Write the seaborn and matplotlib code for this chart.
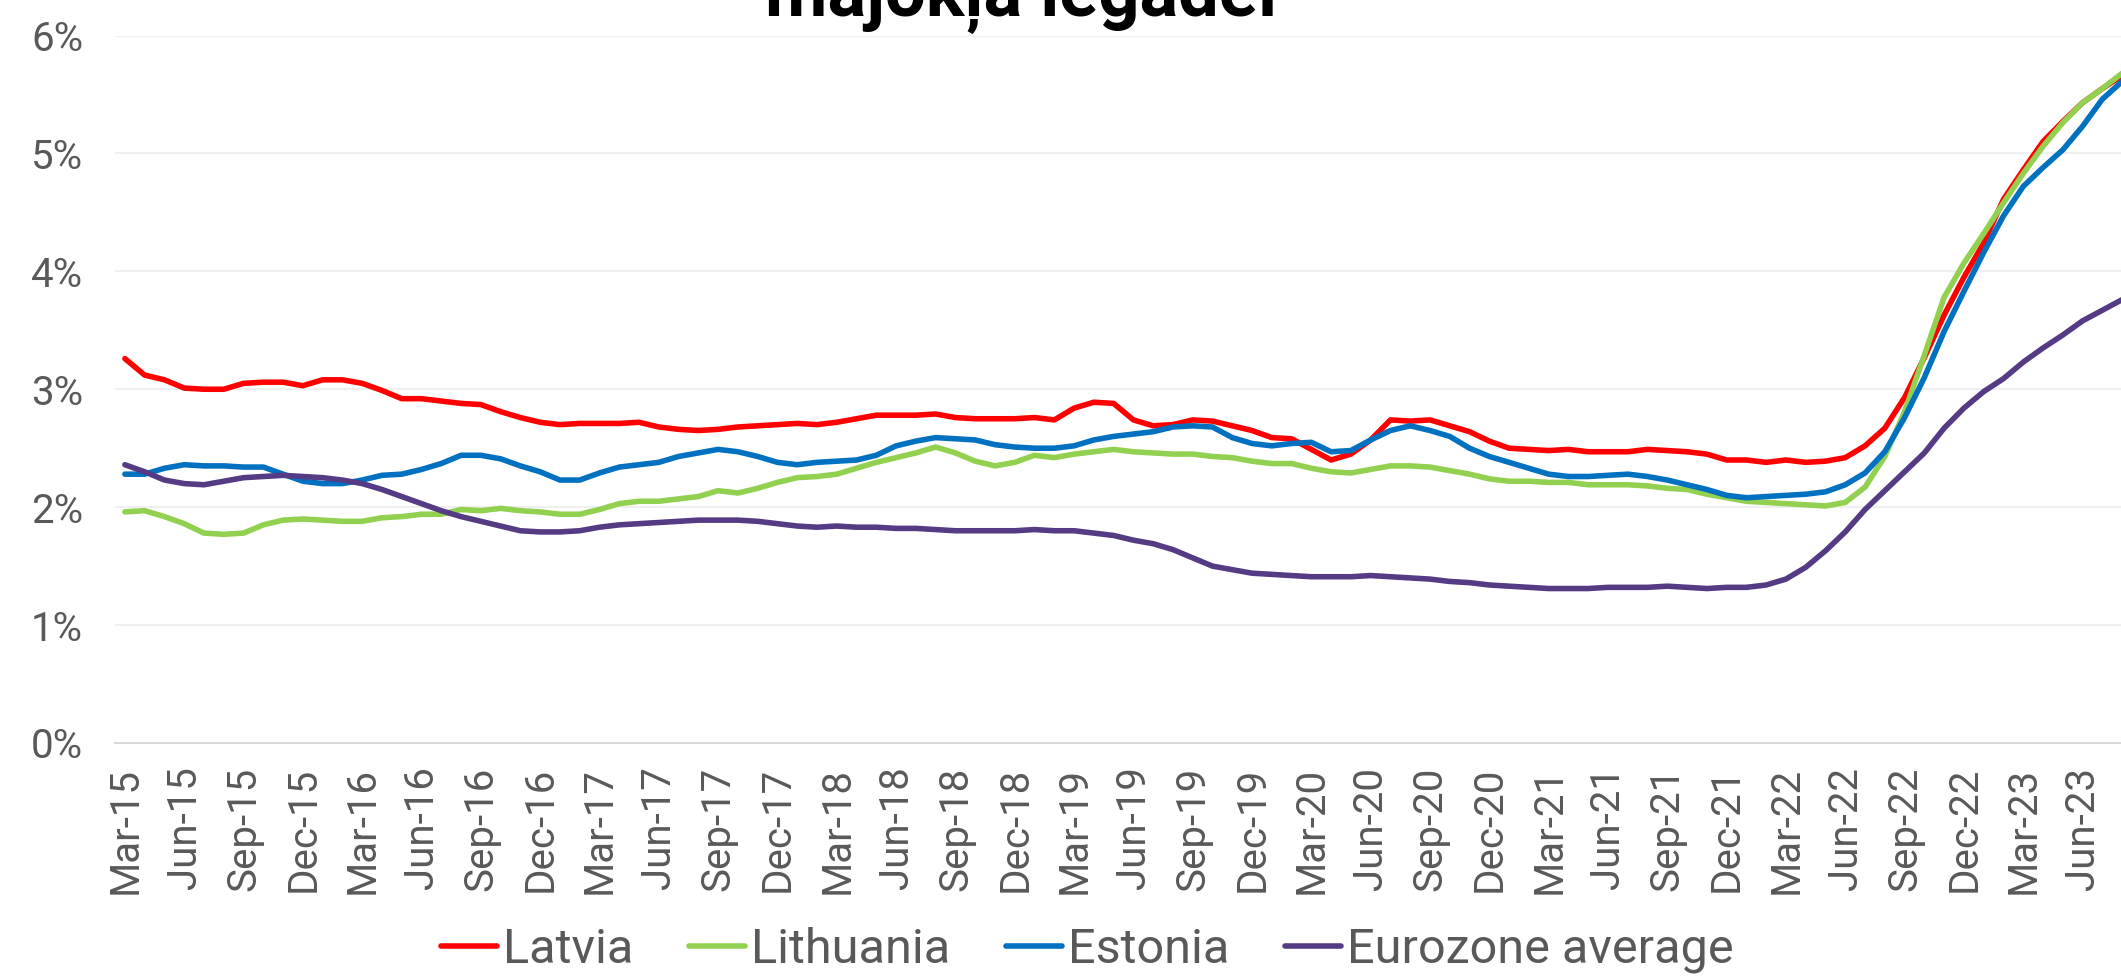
import matplotlib.pyplot as plt
import pandas as pd
import seaborn as sns

# monthly labels, Mar-15 .. Aug-23
months = list(pd.date_range("2015-03-01", periods=102, freq="MS").strftime("%b-%y"))

latvia = [3.26, 3.12, 3.08, 3.01, 3.00, 3.00, 3.05, 3.06, 3.06, 3.03, 3.08, 3.08, 3.05,
          2.99, 2.92, 2.92, 2.90, 2.88, 2.87, 2.81, 2.76, 2.72, 2.70, 2.71, 2.71, 2.71,
          2.72, 2.68, 2.66, 2.65, 2.66, 2.68, 2.69, 2.70, 2.71, 2.70, 2.72, 2.75, 2.78,
          2.78, 2.78, 2.79, 2.76, 2.75, 2.75, 2.75, 2.76, 2.74, 2.84, 2.89, 2.88, 2.74,
          2.69, 2.70, 2.74, 2.73, 2.69, 2.65, 2.59, 2.58, 2.49, 2.40, 2.45, 2.57, 2.74,
          2.73, 2.74, 2.69, 2.64, 2.56, 2.50, 2.49, 2.48, 2.49, 2.47, 2.47, 2.47, 2.49,
          2.48, 2.47, 2.45, 2.40, 2.40, 2.38, 2.40, 2.38, 2.39, 2.42, 2.52, 2.67, 2.93,
          3.27, 3.63, 3.95, 4.24, 4.61, 4.86, 5.10, 5.27, 5.43, 5.55, 5.66]

lithuania = [1.96, 1.97, 1.92, 1.86, 1.78, 1.77, 1.78, 1.85, 1.89, 1.90, 1.89, 1.88, 1.88,
             1.91, 1.92, 1.94, 1.94, 1.98, 1.97, 1.99, 1.97, 1.96, 1.94, 1.94, 1.98, 2.03,
             2.05, 2.05, 2.07, 2.09, 2.14, 2.12, 2.16, 2.21, 2.25, 2.26, 2.28, 2.33, 2.38,
             2.42, 2.46, 2.51, 2.46, 2.39, 2.35, 2.38, 2.44, 2.42, 2.45, 2.47, 2.49, 2.47,
             2.46, 2.45, 2.45, 2.43, 2.42, 2.39, 2.37, 2.37, 2.33, 2.30, 2.29, 2.32, 2.35,
             2.35, 2.34, 2.31, 2.28, 2.24, 2.22, 2.22, 2.21, 2.21, 2.19, 2.19, 2.19, 2.18,
             2.16, 2.15, 2.11, 2.08, 2.05, 2.04, 2.03, 2.02, 2.01, 2.04, 2.17, 2.43, 2.81,
             3.29, 3.78, 4.07, 4.32, 4.58, 4.83, 5.06, 5.26, 5.43, 5.55, 5.68]

estonia = [2.28, 2.28, 2.33, 2.36, 2.35, 2.35, 2.34, 2.34, 2.28, 2.22, 2.20, 2.20, 2.23,
           2.27, 2.28, 2.32, 2.37, 2.44, 2.44, 2.41, 2.35, 2.30, 2.23, 2.23, 2.29, 2.34,
           2.36, 2.38, 2.43, 2.46, 2.49, 2.47, 2.43, 2.38, 2.36, 2.38, 2.39, 2.40, 2.44,
           2.52, 2.56, 2.59, 2.58, 2.57, 2.53, 2.51, 2.50, 2.50, 2.52, 2.57, 2.60, 2.62,
           2.64, 2.68, 2.69, 2.68, 2.59, 2.54, 2.52, 2.54, 2.55, 2.47, 2.48, 2.57, 2.65,
           2.69, 2.65, 2.60, 2.50, 2.43, 2.38, 2.33, 2.28, 2.26, 2.26, 2.27, 2.28, 2.26,
           2.23, 2.19, 2.15, 2.10, 2.08, 2.09, 2.10, 2.11, 2.13, 2.19, 2.29, 2.47, 2.76,
           3.10, 3.49, 3.83, 4.16, 4.47, 4.72, 4.88, 5.03, 5.23, 5.46, 5.61]

eurozone = [2.36, 2.30, 2.23, 2.20, 2.19, 2.22, 2.25, 2.26, 2.27, 2.26, 2.25, 2.23, 2.20,
            2.15, 2.09, 2.03, 1.97, 1.92, 1.88, 1.84, 1.80, 1.79, 1.79, 1.80, 1.83, 1.85,
            1.86, 1.87, 1.88, 1.89, 1.89, 1.89, 1.88, 1.86, 1.84, 1.83, 1.84, 1.83, 1.83,
            1.82, 1.82, 1.81, 1.80, 1.80, 1.80, 1.80, 1.81, 1.80, 1.80, 1.78, 1.76, 1.72,
            1.69, 1.64, 1.57, 1.50, 1.47, 1.44, 1.43, 1.42, 1.41, 1.41, 1.41, 1.42, 1.41,
            1.40, 1.39, 1.37, 1.36, 1.34, 1.33, 1.32, 1.31, 1.31, 1.31, 1.32, 1.32, 1.32,
            1.33, 1.32, 1.31, 1.32, 1.32, 1.34, 1.39, 1.49, 1.63, 1.79, 1.98, 2.14, 2.30,
            2.46, 2.67, 2.84, 2.98, 3.09, 3.23, 3.35, 3.46, 3.58, 3.67, 3.76]

series_names = ["Latvia", "Lithuania", "Estonia", "Eurozone average"]
palette = {"Latvia": "#FF0000", "Lithuania": "#92D050",
           "Estonia": "#0070C0", "Eurozone average": "#553A84"}

df = pd.DataFrame({"month": range(len(months)),
                   "Latvia": latvia, "Lithuania": lithuania,
                   "Estonia": estonia, "Eurozone average": eurozone})
df = df.melt(id_vars="month", var_name="series", value_name="rate")

sns.set_style("white")
plt.rcParams["font.family"] = ["Roboto", "DejaVu Sans"]

fig = plt.figure(figsize=(21.21, 9.77), dpi=100)
ax = fig.add_axes([115 / 2121, 1 - 743 / 977, 2017 / 2121, 707.5 / 977])

sns.lineplot(data=df, x="month", y="rate", hue="series", hue_order=series_names,
             palette=palette, linewidth=4.0, ax=ax)

ax.set_xlim(-0.5, len(months) - 0.5)
ax.set_ylim(0, 6)
ax.set_xticks(range(0, len(months), 3))
ax.set_xticklabels(months[::3], rotation=90)
ax.set_yticks(range(7))
ax.set_yticklabels([f"{v}%" for v in range(7)])
ax.tick_params(axis="x", length=0, pad=17, labelsize=29, labelcolor="#595959")
ax.tick_params(axis="y", length=0, pad=23, labelsize=29, labelcolor="#595959")
ax.set_xlabel("")
ax.set_ylabel("")

ax.grid(axis="y", color="#EFEFEF", linewidth=1.5)
ax.grid(axis="x", visible=False)
ax.set_axisbelow(True)
for side in ["top", "right", "left"]:
    ax.spines[side].set_visible(False)
ax.spines["bottom"].set_color("#D9D9D9")
ax.spines["bottom"].set_linewidth(1.5)

# title, only its lower line shows at the top edge
fig.text(1021 / 2121, 1 - 16 / 977, "mājokļa iegādei", ha="center", va="baseline",
         fontsize=52, fontweight="bold", color="black")

sns.move_legend(ax, "center", bbox_to_anchor=(1087 / 2121, 1 - 950 / 977),
                bbox_transform=fig.transFigure, ncol=4, frameon=False, title=None,
                fontsize=35, labelcolor="#595959", handlelength=1.15,
                handletextpad=0.12, columnspacing=1.15)

fig.savefig("out.png", dpi=100)
